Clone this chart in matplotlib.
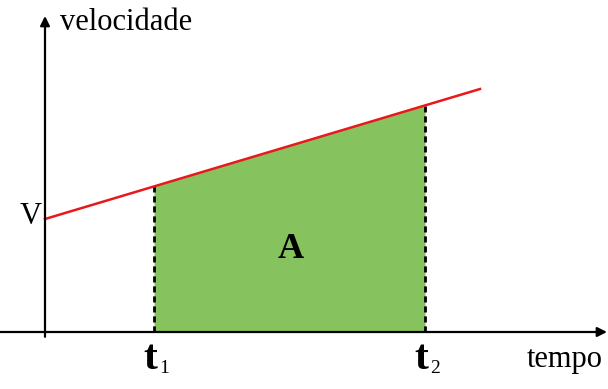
import matplotlib
matplotlib.use("Agg")
import matplotlib.pyplot as plt
import numpy as np

# linha de velocidade (tempo, velocidade)
tempo_linha = [0.0, 10.875]
vel_linha = [2.825, 6.075]
t1 = 2.725
t2 = 9.5
rotulos = ["1", "2"]

def vel(t):
    return np.interp(t, tempo_linha, vel_linha)

fig = plt.figure(figsize=(6.08, 3.89), dpi=100)
ax = fig.add_axes([0, 0, 1, 1])
ax.set_xlim(-1.125, 14.075)
ax.set_ylim(-1.425, 8.3)
ax.axis("off")

serif = "Liberation Serif"

# area A
ts = np.array([t1, t2])
ax.fill_between(ts, 0, vel(ts), color="#86c35e", lw=0, zorder=1)

# tracejadas
for t in (t1, t2):
    ax.plot([t, t], [0, vel(t)], color="black", lw=2, ls=(0, (2.2, 1.4)), zorder=3)

# reta vermelha
ax.plot(tempo_linha, vel_linha, color="#e8191c", lw=1.8, zorder=4)

# eixos com setas
ax.annotate("", xy=(14.05, 0), xytext=(-1.125, 0),
            arrowprops=dict(arrowstyle="-|>", color="black", lw=1.6,
                            mutation_scale=14, shrinkA=0, shrinkB=0), zorder=5)
ax.annotate("", xy=(0, 7.9), xytext=(0, -0.12),
            arrowprops=dict(arrowstyle="-|>", color="black", lw=1.6,
                            mutation_scale=14, shrinkA=0, shrinkB=0), zorder=5)

ax.text(0.38, 7.75, "velocidade", fontsize=22, family=serif, ha="left", va="center")
ax.text(13.0, -0.7, "tempo", fontsize=22, family=serif, ha="center", va="center")
ax.text(-0.08, vel_linha[0] + 0.07, "V", fontsize=22, family=serif, ha="right", va="center")
ax.text(6.15, 2.05, "A", fontsize=26, family=serif, weight="bold", ha="center", va="center")
for t, lab in zip((t1, t2), rotulos):
    ax.text(t - 0.1, -0.68, "t", fontsize=30, family=serif, weight="bold", ha="center", va="center")
    ax.text(t + 0.12, -0.92, lab, fontsize=14, family=serif, ha="left", va="center")

fig.savefig("out.png", dpi=100)
